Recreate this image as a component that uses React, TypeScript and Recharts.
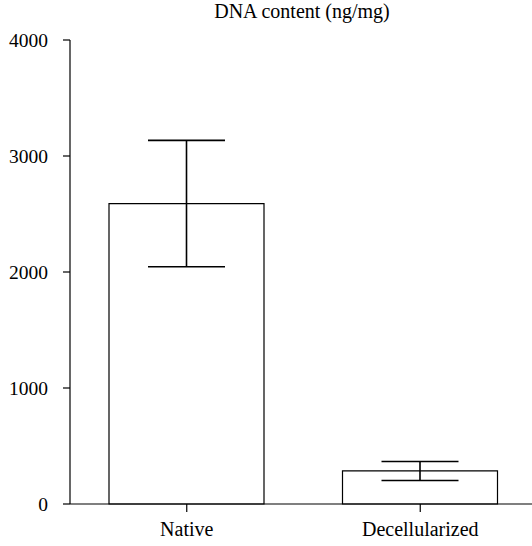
import { BarChart, Bar, XAxis, YAxis, ErrorBar } from "recharts"

const categories = ["Native", "Decellularized"]
const means = [2590, 285]
const errors = [545, 82]
const yTicks = [0, 1000, 2000, 3000, 4000]

const data = categories.map((name, i) => ({ name, value: means[i], err: errors[i] }))

const font = "'Liberation Serif', serif"

export default function App() {
    return (
        <div style={{ position: "absolute", left: 0, top: 0, width: 532, height: 546, overflow: "hidden", background: "#fff" }}>
            <div
                style={{
                    position: "absolute",
                    top: 1,
                    left: 302,
                    transform: "translateX(-50%)",
                    whiteSpace: "nowrap",
                    fontFamily: font,
                    fontSize: 20,
                    lineHeight: "20px",
                    color: "#000",
                }}
            >
                DNA content (ng/mg)
            </div>
            <BarChart width={537} height={546} data={data} margin={{ top: 40, right: 0, left: 0, bottom: 0 }}>
                <XAxis
                    dataKey="name"
                    height={42}
                    tickSize={8}
                    tickMargin={10}
                    axisLine={{ stroke: "#000", strokeWidth: 1.2 }}
                    tickLine={{ stroke: "#000", strokeWidth: 1.2 }}
                    tick={{ fontSize: 20, fill: "#000", fontFamily: font }}
                />
                <YAxis
                    width={70}
                    domain={[0, 4000]}
                    ticks={yTicks}
                    interval={0}
                    tickSize={7}
                    tickMargin={15}
                    axisLine={{ stroke: "#000", strokeWidth: 1.2 }}
                    tickLine={{ stroke: "#000", strokeWidth: 1.2 }}
                    tick={{ fontSize: 19.5, fill: "#000", fontFamily: font }}
                />
                <Bar dataKey="value" barSize={155} fill="#fff" stroke="#000" strokeWidth={1.2} isAnimationActive={false}>
                    <ErrorBar dataKey="err" width={38.5} stroke="#000" strokeWidth={1.6} isAnimationActive={false} />
                </Bar>
            </BarChart>
        </div>
    )
}
